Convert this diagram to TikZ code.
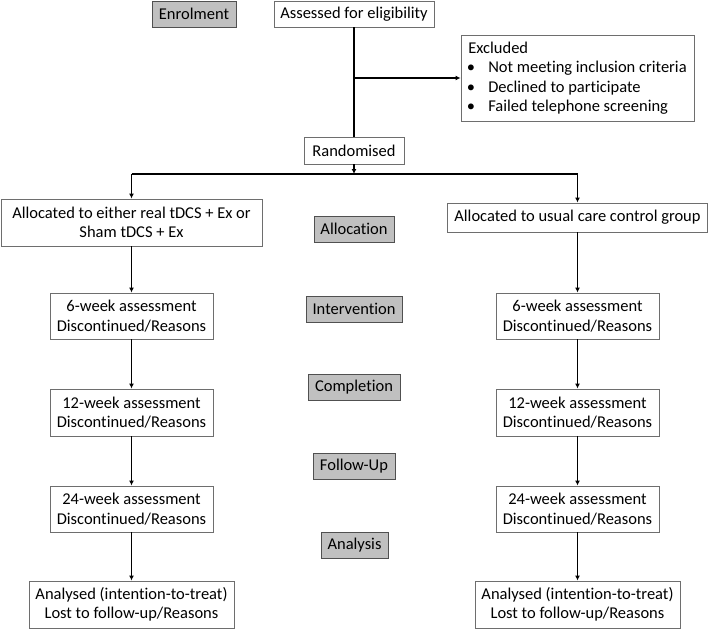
\documentclass[tikz,border=0pt]{standalone}
\usepackage{fontspec}
\setmainfont[Ligatures=NoCommon]{Carlito}
\usetikzlibrary{arrows.meta}
\definecolor{boxline}{RGB}{110,110,110}
\definecolor{stagefill}{RGB}{192,192,192}
\definecolor{stageline}{RGB}{80,80,80}

\begin{document}
\begin{tikzpicture}[x=1pt, y=-1pt,
    every node/.style={font=\fontsize{16.5}{19.5}\selectfont, inner sep=0pt},
    box/.style={draw=boxline, line width=0.9pt, fill=white, align=center},
    stage/.style={draw=stageline, line width=0.9pt, fill=stagefill, minimum height=26pt},
    flow/.style={line width=1.7pt},
    arr/.style={flow, -{Latex[length=5pt,width=5pt]}}]
    \useasboundingbox (0,0) rectangle (709,629);

    % Enrolment
    \node[stage, minimum width=84pt] (enrol) at (194,14) {Enrolment};
    \node[box, minimum width=160pt, minimum height=26pt] (assess) at (354,14) {Assessed for eligibility};
    \node[box, minimum width=233pt, minimum height=86pt, align=left] (excl) at (577.5,78)
        {Excluded\\
         \makebox[20pt][l]{\hspace{-1.5pt}•}Not meeting inclusion criteria\\
         \makebox[20pt][l]{\hspace{-1.5pt}•}Declined to participate\\
         \makebox[20pt][l]{\hspace{-1.5pt}•}Failed telephone screening};
    \node[box, minimum width=100pt, minimum height=27pt] (rand) at (354,150.5) {Randomised};

    \coordinate (branch) at (354,78);
    \coordinate (split) at (354,174);
    \draw[flow] (assess.south) -- (rand.north);
    \draw[arr] (branch) -- (excl.west);
    \draw[arr] (rand.south) -- (split);

    % Allocation
    \node[box, minimum width=261pt, minimum height=47pt] (allocL) at (131.5,222.5)
        {Allocated to either real tDCS + Ex or\\Sham tDCS + Ex};
    \node[stage, minimum width=80pt] (allocS) at (354,229) {Allocation};
    \node[box, minimum width=260pt, minimum height=29pt] (allocR) at (577.5,217.5)
        {Allocated to usual care control group};

    \coordinate (splitL) at (allocL.north |- split);
    \coordinate (splitR) at (allocR.north |- split);
    \draw[flow] (splitL) -- (splitR);
    \draw[arr] (splitL) -- (allocL.north);
    \draw[arr] (splitR) -- (allocR.north);

    % Assessments
    \node[box, minimum width=163pt, minimum height=46pt] (sixL) at (131.5,316) {6-week assessment\\Discontinued/Reasons};
    \node[box, minimum width=163pt, minimum height=46pt] (sixR) at (577.5,316) {6-week assessment\\Discontinued/Reasons};
    \node[stage, minimum width=96pt] (interv) at (354,309) {Intervention};

    \node[stage, minimum width=92pt] (compl) at (354,387.5) {Completion};
    \node[box, minimum width=163pt, minimum height=47pt] (twelveL) at (131.5,412.5) {12-week assessment\\Discontinued/Reasons};
    \node[box, minimum width=163pt, minimum height=47pt] (twelveR) at (577.5,412.5) {12-week assessment\\Discontinued/Reasons};

    \node[stage, minimum width=82pt] (follow) at (354,466) {Follow-Up};
    \node[box, minimum width=163pt, minimum height=46pt] (tfourL) at (131.5,509) {24-week assessment\\Discontinued/Reasons};
    \node[box, minimum width=163pt, minimum height=46pt] (tfourR) at (577.5,509) {24-week assessment\\Discontinued/Reasons};

    % Analysis
    \node[stage, minimum width=67pt] (analysis) at (354.5,545) {Analysis};
    \node[box, minimum width=205pt, minimum height=47pt] (analL) at (131.5,604.5) {Analysed (intention-to-treat)\\Lost to follow-up/Reasons};
    \node[box, minimum width=205pt, minimum height=47pt] (analR) at (577.5,604.5) {Analysed (intention-to-treat)\\Lost to follow-up/Reasons};

    \draw[arr] (allocL) -- (sixL);
    \draw[arr] (sixL) -- (twelveL);
    \draw[arr] (twelveL) -- (tfourL);
    \draw[arr] (tfourL) -- (analL);
    \draw[arr] (allocR) -- (sixR);
    \draw[arr] (sixR) -- (twelveR);
    \draw[arr] (twelveR) -- (tfourR);
    \draw[arr] (tfourR) -- (analR);
\end{tikzpicture}
\end{document}
